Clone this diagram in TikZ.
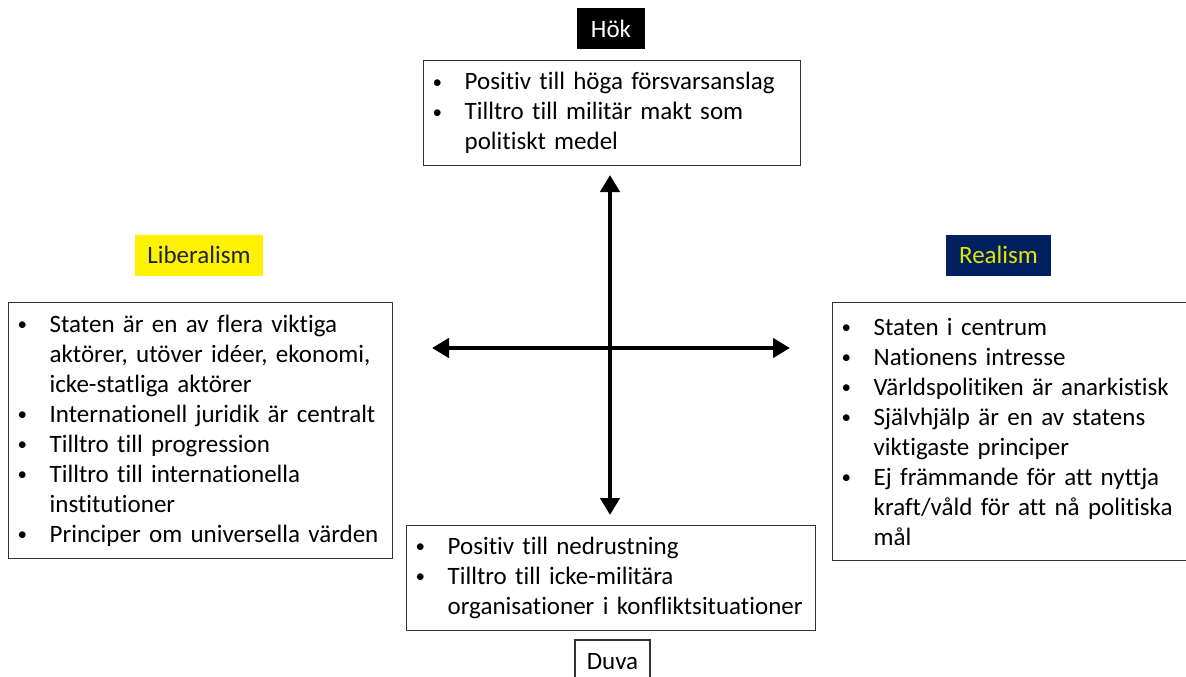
\documentclass[tikz,border=0pt]{standalone}
\usepackage{fontspec}
\setmainfont{Carlito}[Ligatures=NoCommon]
\usetikzlibrary{arrows.meta,positioning}
\definecolor{realnavy}{RGB}{0,32,96}
\definecolor{realtext}{RGB}{230,230,0}
\definecolor{libtext}{RGB}{30,35,60}
\newcommand{\bul}{\makebox[29pt][l]{\hspace*{-3pt}\raisebox{1.8pt}{\fontsize{19}{30}\selectfont\textbullet}}}
\newcommand{\ind}{\hspace*{29pt}}
\tikzset{
  listbox/.style={draw=black!80, line width=1.3pt, inner xsep=12pt, inner ysep=0pt,
    align=left, anchor=north west, font=\fontsize{25}{30}\selectfont},
  tag/.style={inner sep=0pt, minimum height=41pt, font=\fontsize{25}{30}\selectfont},
  axis/.style={line width=4.5pt, {Triangle[width=19pt,length=17pt]}-{Triangle[width=19pt,length=17pt]}}
}
\begin{document}
\begin{tikzpicture}[x=1pt, y=1pt]
    \useasboundingbox (0,0) rectangle (1186,-677);

    % labels of the four poles
    \node[tag, fill=black, text=white, minimum width=68pt] (hok) at (611,-29) {Hök};
    \node[tag, fill=yellow, text=libtext, minimum width=128pt] (lib) at (199,-255) {Liberalism};
    \node[tag, fill=realnavy, text=realtext, minimum width=105pt] (real) at (998.5,-255) {Realism};
    \node[tag, draw=black!80, line width=1.3pt, minimum width=75pt, minimum height=44pt] (duva) at (612.5,-662) {Duva};

    % text boxes
    \node[listbox, text width=353pt, minimum width=377pt, minimum height=105pt] (hokbox) at (423,-60)
        {\bul Positiv till höga försvarsanslag\\
         \bul Tilltro till militär makt som\\
         \ind politiskt medel};
    \node[listbox, text width=360pt, minimum width=384pt, minimum height=256pt] (libbox) at (8,-302)
        {\bul Staten är en av flera viktiga\\
         \ind aktörer, utöver idéer, ekonomi,\\
         \ind icke-statliga aktörer\\
         \bul Internationell juridik är centralt\\
         \bul Tilltro till progression\\
         \bul Tilltro till internationella\\
         \ind institutioner\\
         \bul Principer om universella värden};
    \node[listbox, text width=350pt, minimum width=374pt, minimum height=258pt] (realbox) at (832,-302)
        {\bul Staten i centrum\\
         \bul Nationens intresse\\
         \bul Världspolitiken är anarkistisk\\
         \bul Självhjälp är en av statens\\
         \ind viktigaste principer\\
         \bul Ej främmande för att nyttja\\
         \ind kraft/våld för att nå politiska\\
         \ind mål};
    \node[listbox, text width=385pt, minimum width=409pt, minimum height=105pt] (duvabox) at (406,-525)
        {\bul Positiv till nedrustning\\
         \bul Tilltro till icke-militära\\
         \ind organisationer i konfliktsituationer};

    % the two axes
    \coordinate (up) at (610,-175);
    \coordinate (down) at (610,-515);
    \coordinate (lft) at (432,-348);
    \coordinate (rgt) at (790,-348);
    \draw[axis] (down) -- (up);
    \draw[axis] (lft) -- (rgt);
\end{tikzpicture}
\end{document}
